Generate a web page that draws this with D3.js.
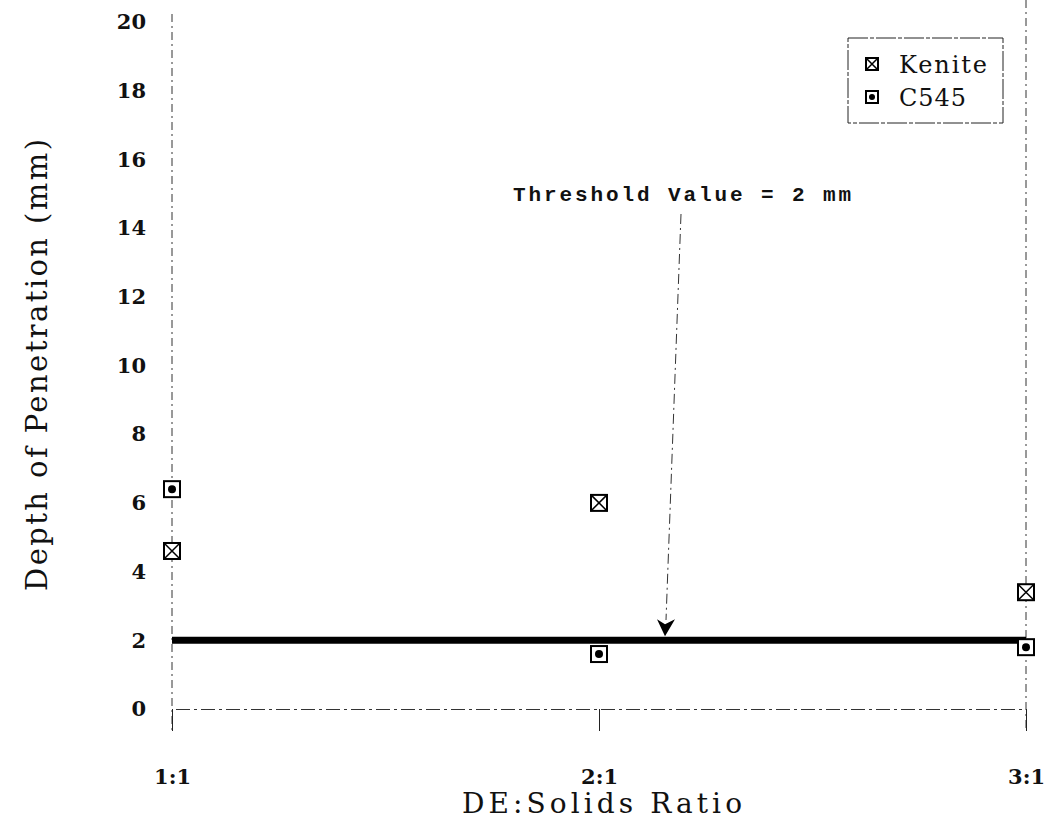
<!DOCTYPE html>
<html>
<head>
    <meta charset="utf-8" />
    <script src="https://d3js.org/d3.v7.min.js"></script>
    <style>
        body { margin: 0; background: #fff; }
    </style>
</head>
<body>
    <svg id="chart" width="1049" height="831"></svg>

<script>
    // Data
    const ratios = ["1:1", "2:1", "3:1"];
    const kenite = [4.6, 6.0, 3.4];
    const c545 = [6.4, 1.6, 1.8];
    const yTicks = [0, 2, 4, 6, 8, 10, 12, 14, 16, 18, 20];
    const threshold = 2;

    const width = 1049;
    const height = 831;
    const margin = { top: 22, right: 23, bottom: 122, left: 172 };

    const svg = d3.select("#chart");
    const serif = "'DejaVu Serif', 'Liberation Serif', serif";

    const xScale = d3.scalePoint()
        .domain(ratios)
        .range([margin.left, width - margin.right]);

    const yScale = d3.scaleLinear()
        .domain([0, 20])
        .range([height - margin.bottom, margin.top]);

    const y0 = yScale(0);

    // vertical dash-dot lines at first and last category
    svg.selectAll(".vline")
        .data([ratios[0], ratios[2]])
        .enter().append("line")
        .attr("x1", d => xScale(d))
        .attr("x2", d => xScale(d))
        .attr("y1", (d, i) => i === 0 ? 14 : 0)
        .attr("y2", y0 + 22)
        .attr("stroke", "#333")
        .attr("stroke-width", 1)
        .attr("stroke-dasharray", "8,4,2,4");

    // x axis
    const xAxis = d3.axisBottom(xScale).tickSize(22).tickPadding(38);
    const gx = svg.append("g")
        .attr("transform", `translate(0, ${y0})`)
        .call(xAxis);
    gx.select(".domain")
        .attr("stroke", "#333")
        .attr("stroke-dasharray", "14,4,3,4");
    gx.selectAll(".tick line").attr("stroke", "#222");
    gx.selectAll(".tick text")
        .attr("fill", "#111")
        .style("font-family", serif)
        .style("font-weight", "bold")
        .style("font-size", "21px");

    // y axis labels
    const yAxis = d3.axisLeft(yScale).tickValues(yTicks).tickSize(0).tickPadding(26);
    const gy = svg.append("g")
        .attr("transform", `translate(${margin.left}, 0)`)
        .call(yAxis);
    gy.select(".domain").remove();
    gy.selectAll(".tick text")
        .attr("fill", "#111")
        .style("font-family", serif)
        .style("font-weight", "bold")
        .style("font-size", "21px");

    // threshold line
    svg.append("line")
        .attr("x1", xScale(ratios[0]))
        .attr("x2", xScale(ratios[2]))
        .attr("y1", yScale(threshold))
        .attr("y2", yScale(threshold))
        .attr("stroke", "#000")
        .attr("stroke-width", 7);

    // annotation
    svg.append("text")
        .attr("x", 513)
        .attr("y", 201)
        .attr("textLength", 338)
        .style("font-family", "'Liberation Mono', 'DejaVu Sans Mono', monospace")
        .style("font-weight", "bold")
        .style("font-size", "21px")
        .attr("fill", "#111")
        .text("Threshold Value = 2 mm");

    svg.append("line")
        .attr("x1", 681)
        .attr("y1", 214)
        .attr("x2", 666)
        .attr("y2", 620)
        .attr("stroke", "#333")
        .attr("stroke-width", 1)
        .attr("stroke-dasharray", "10,4,2,4");

    const tipY = yScale(threshold) - 4;
    svg.append("path")
        .attr("d", `M665,${tipY} L657,${tipY - 17} L665,${tipY - 12} L675,${tipY - 17} Z`)
        .attr("fill", "#000");

    // markers
    const box = 16;
    function kMarker(g, s) {
        g.append("rect")
            .attr("x", -s / 2).attr("y", -s / 2)
            .attr("width", s).attr("height", s)
            .attr("fill", "#fff").attr("stroke", "#000").attr("stroke-width", 2);
        g.append("path")
            .attr("d", `M${-s / 2},${-s / 2} L${s / 2},${s / 2} M${s / 2},${-s / 2} L${-s / 2},${s / 2}`)
            .attr("stroke", "#000").attr("stroke-width", 1.5);
    }
    function cMarker(g, s) {
        g.append("rect")
            .attr("x", -s / 2).attr("y", -s / 2)
            .attr("width", s).attr("height", s)
            .attr("fill", "#fff").attr("stroke", "#000").attr("stroke-width", 2);
        g.append("circle")
            .attr("r", s / 4)
            .attr("fill", "#000");
    }

    svg.selectAll(".kenite")
        .data(kenite)
        .enter().append("g")
        .attr("transform", (d, i) => `translate(${xScale(ratios[i])}, ${yScale(d)})`)
        .each(function () { kMarker(d3.select(this), box); });

    svg.selectAll(".c545")
        .data(c545)
        .enter().append("g")
        .attr("transform", (d, i) => `translate(${xScale(ratios[i])}, ${yScale(d)})`)
        .each(function () { cMarker(d3.select(this), box); });

    // legend
    svg.append("rect")
        .attr("x", 848).attr("y", 38)
        .attr("width", 155).attr("height", 85)
        .attr("fill", "#fff")
        .attr("stroke", "#222").attr("stroke-width", 1)
        .attr("stroke-dasharray", "20,2,4,2");

    const legendItems = [
        { name: "Kenite", draw: kMarker, y: 64 },
        { name: "C545", draw: cMarker, y: 97 }
    ];
    legendItems.forEach(item => {
        const g = svg.append("g").attr("transform", `translate(872, ${item.y})`);
        item.draw(g, 12);
        svg.append("text")
            .attr("x", 899)
            .attr("y", item.y + 9)
            .attr("textLength", item.name === "Kenite" ? 88 : 67)
            .style("font-family", serif)
            .style("font-size", "24px")
            .attr("fill", "#111")
            .text(item.name);
    });

    // axis titles
    svg.append("text")
        .attr("transform", "translate(47, 365) rotate(-90)")
        .attr("text-anchor", "middle")
        .attr("textLength", 452)
        .style("font-family", serif)
        .style("font-size", "29px")
        .attr("fill", "#111")
        .text("Depth of Penetration (mm)");

    svg.append("text")
        .attr("x", 602)
        .attr("y", 813)
        .attr("text-anchor", "middle")
        .attr("textLength", 280)
        .style("font-family", serif)
        .style("font-size", "28px")
        .attr("fill", "#111")
        .text("DE:Solids Ratio");
</script>
</body>
</html>
